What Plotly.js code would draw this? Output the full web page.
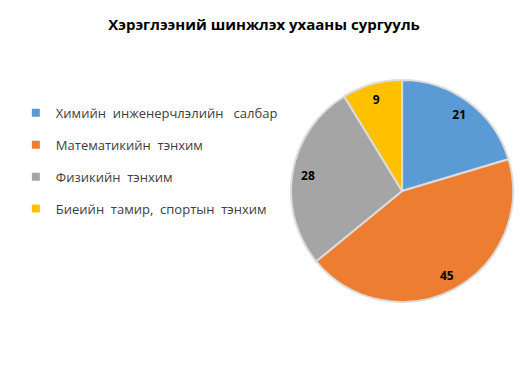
<!DOCTYPE html>
<html>
<head>
<meta charset="utf-8">
<script src="https://cdn.plot.ly/plotly-3.0.1.min.js"></script>
<style>html,body{margin:0;padding:0;background:#fff;}#chart{width:528px;height:384px;}</style>
</head>
<body>
<div id="chart"></div>
<script>
const categories = [
  "Химийн  инженерчлэлийн   салбар",
  "Математикийн  тэнхим",
  "Физикийн  тэнхим",
  "Биеийн  тамир,  спортын  тэнхим"
];
const values = [21, 45, 28, 9];
const colors = ["#5B9BD5", "#ED7D31", "#A5A5A5", "#FFC000"];
const chartTitle = "Хэрэглээний шинжлэх ухааны сургууль";

const pieDomain = {x: [0.551, 0.972], y: [0.2135, 0.7917]};

const pieTrace = {
  type: "pie",
  labels: categories,
  values: values,
  sort: false,
  direction: "clockwise",
  rotation: 0,
  marker: {colors: colors, line: {color: "#DCDCDC", width: 2}},
  textinfo: "none",
  domain: pieDomain,
  showlegend: false,
  hoverinfo: "none"
};

// transparent ring carrying the value labels further out, like the original
const labelTrace = {
  type: "pie",
  labels: categories,
  values: values,
  sort: false,
  direction: "clockwise",
  rotation: 0,
  hole: 0.72,
  marker: {colors: categories.map(() => "rgba(0,0,0,0)"), line: {width: 0}},
  textinfo: "value",
  textposition: "inside",
  insidetextorientation: "horizontal",
  textfont: {family: "Open Sans, sans-serif", size: 12, color: "#000", weight: "bold"},
  domain: pieDomain,
  showlegend: false,
  hoverinfo: "none"
};

const legendTraces = categories.map((name, i) => ({
  type: "scatter",
  mode: "markers",
  x: [null], y: [null],
  name: name,
  legendgroup: "g" + i,
  marker: {symbol: "square", size: 8, color: colors[i]},
  hoverinfo: "none"
}));

const layout = {
  width: 528, height: 384,
  margin: {l: 0, r: 0, t: 0, b: 0},
  paper_bgcolor: "#fff",
  plot_bgcolor: "rgba(0,0,0,0)",
  xaxis: {visible: false},
  yaxis: {visible: false},
  title: {
    text: chartTitle,
    font: {family: "Open Sans, sans-serif", size: 15, color: "#000", weight: "bold"},
    x: 0.5, xanchor: "center", y: 0.935, yanchor: "middle"
  },
  showlegend: true,
  legend: {
    x: 0.03, y: 0.745, xanchor: "left", yanchor: "top",
    font: {family: "Open Sans, sans-serif", size: 13, color: "#404040"},
    tracegroupgap: 12,
    itemwidth: 30,
    bgcolor: "rgba(0,0,0,0)"
  }
};

Plotly.newPlot("chart", [pieTrace, labelTrace].concat(legendTraces), layout, {staticPlot: true, displayModeBar: false});
</script>
</body>
</html>
